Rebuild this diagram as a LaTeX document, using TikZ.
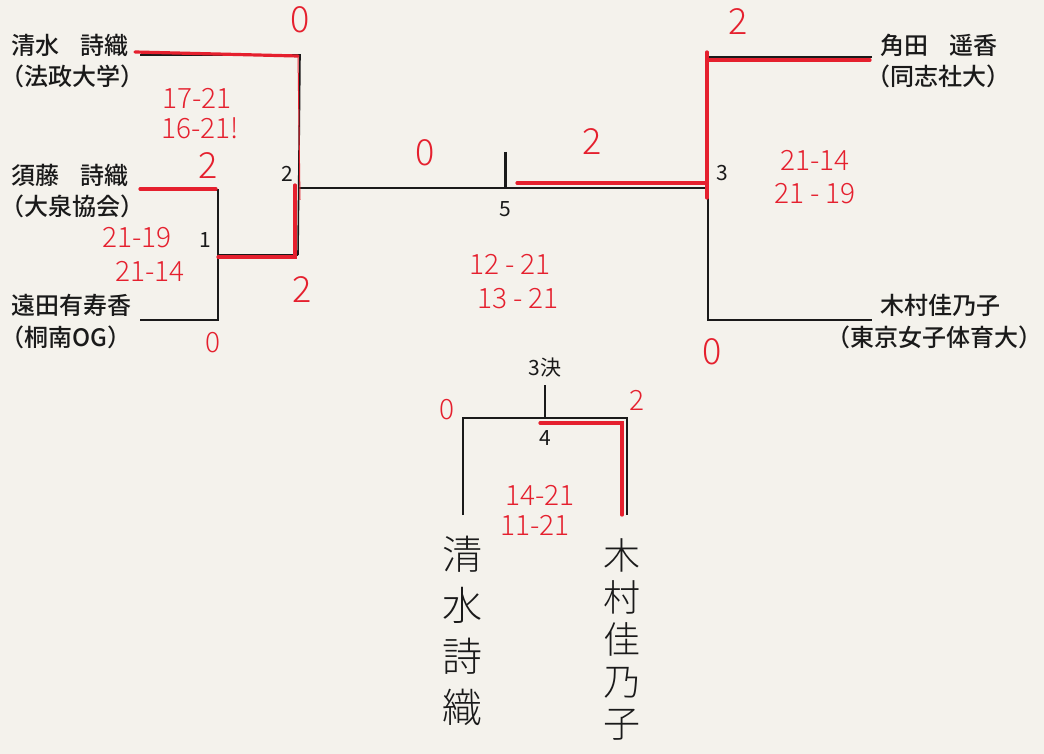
\documentclass[tikz,border=0pt]{standalone}
\usepackage{fontspec}
\setmainfont{Noto Sans CJK JP}
\newfontfamily\hand{Noto Sans CJK JP Light}
\newfontfamily\med{Noto Sans CJK JP Medium}
\definecolor{paper}{HTML}{F4F2EC}
\definecolor{pen}{HTML}{E5202E}
\definecolor{ink}{HTML}{1A1A1A}
\tikzset{
  br/.style={draw=ink, line width=1.6pt},
  rd/.style={draw=pen, line width=3.2pt, line cap=round},
  nm/.style={anchor=west, inner sep=0pt, font=\med\fontsize{24}{28}\selectfont, text=ink},
  num/.style={inner sep=0pt, font=\fontsize{21}{24}\selectfont, text=ink},
  sc/.style={inner sep=0pt, font=\hand\fontsize{28}{32}\selectfont, text=pen},
  big/.style={inner sep=0pt, font=\hand\fontsize{36}{40}\selectfont, text=pen},
  vn/.style={inner sep=0pt, align=center, text=ink}
}
\begin{document}
\begin{tikzpicture}[x=1pt,y=-1pt]
\fill[paper] (0,0) rectangle (1044,754);
\useasboundingbox (0,0) rectangle (1044,754);
% names left
\node[nm] (n1) at (11,45) {清水\hspace{0.9em}詩織};
\node[nm] (n1b) at (0,76) {（法政大学）};
\node[nm] (n2) at (11,175) {須藤\hspace{0.9em}詩織};
\node[nm] (n2b) at (0,206) {（大泉協会）};
\node[nm] (n3) at (11,305) {遠田有寿香};
\node[nm] (n3b) at (0,337) {（桐南OG）};
% names right
\node[nm] (n4) at (880,45) {角田\hspace{0.9em}遥香};
\node[nm] (n4b) at (866,76) {（同志社大）};
\node[nm] (n5) at (880,305) {木村佳乃子};
\node[nm, anchor=east] (n5b) at (1043,337) {（東京女子体育大）};
% coordinates
\coordinate (a1) at (140,55);
\coordinate (a2) at (300,55);
\coordinate (b1) at (140,190);
\coordinate (b2) at (218,190);
\coordinate (c1) at (140,320);
\coordinate (c2) at (218,320);
\coordinate (m1) at (218,255);
\coordinate (m1r) at (298,255);
\coordinate (m2) at (298,188);
\coordinate (m3) at (708,188);
\coordinate (f) at (505,188);
\coordinate (ft) at (505,152);
\coordinate (d1) at (872,57);
\coordinate (d2) at (708,57);
\coordinate (e1) at (872,320);
\coordinate (e2) at (708,320);
% brackets
\draw[br] (a1) -- (a2) -- (m1r);
\draw[br] (b1) -- (b2) -- (c2) -- (c1);
\draw[br] (m1) -- (m1r);
\draw[br] (m2) -- (m3);
\draw[br] (d1) -- (d2) -- (e2) -- (e1);
\draw[ink, line width=3pt] (ft) -- (f);
% match numbers
\node[num] (k1) at (205,240) {1};
\node[num] (k2) at (287,174) {2};
\node[num] (k3) at (722,173) {3};
\node[num] (k5) at (505,209) {5};
% third place
\node[num] (k3k) at (545,368) {3決};
\coordinate (t0) at (545,385);
\coordinate (t1) at (545,418);
\coordinate (tl) at (463,418);
\coordinate (tr) at (627,418);
\coordinate (tlb) at (463,515);
\coordinate (trb) at (627,515);
\draw[br] (t0) -- (t1);
\draw[br] (tlb) -- (tl) -- (tr) -- (trb);
\node[num] (k4) at (545,438) {4};
% red winner lines
\draw[rd] (135,52) -- (298,56);
\draw[rd] (140,189) -- (216,189);
\draw[rd] (218,257) -- (295,257) -- (295,185);
\draw[rd] (517,183) -- (705,183) ;
\draw[rd] (707,198) -- (707,52);
\draw[rd] (709,60) -- (870,60);
\draw[rd] (540,423) -- (622,423) -- (622,515);
\draw[pen, line width=1pt] (298,55) -- (300,200);
% red scores
\node[big] (s0a) at (300,20) {0};
\node[sc] (s1) at (197,98) {17-21};
\node[sc] (s2) at (200,128) {16-21!};
\node[big] (s3) at (208,166) {2};
\node[sc] (s4) at (137,238) {21-19};
\node[sc] (s5) at (150,271) {21-14};
\node[big] (s6) at (302,290) {2};
\node[sc] (s7) at (213,343) {0};
\node[big] (s8) at (425,153) {0};
\node[big] (s9) at (592,142) {2};
\node[sc] (s10) at (510,264) {12 - 21};
\node[sc] (s11) at (518,299) {13 - 21};
\node[big] (s12) at (738,22) {2};
\node[sc] (s13) at (815,160) {21-14};
\node[sc] (s14) at (815,194) {21 - 19};
\node[big] (s15) at (712,352) {0};
\node[sc] (s16) at (447,410) {0};
\node[sc] (s17) at (637,400) {2};
\node[sc] (s18) at (540,495) {14-21};
\node[sc] (s19) at (535,525) {11-21};
% handwritten vertical names
\node[vn, anchor=north, font=\hand\fontsize{40}{51}\selectfont] (h1) at (462,536) {清\\水\\詩\\織};
\node[vn, anchor=north, font=\hand\fontsize{37}{42}\selectfont] (h2) at (622,538) {木\\村\\佳\\乃\\子};
\end{tikzpicture}
\end{document}
